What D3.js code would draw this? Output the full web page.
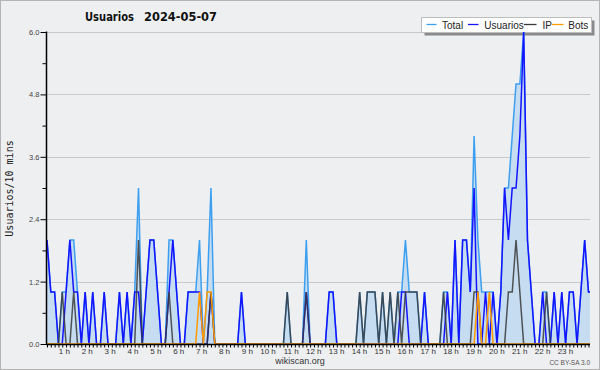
<!DOCTYPE html>
<html><head><meta charset="utf-8">
<script src="https://cdn.jsdelivr.net/npm/d3@7"></script>
<style>body{margin:0;background:#eeeff1}svg{display:block}</style>
</head><body>
<svg id="c" width="600" height="370"></svg>
<script>
// 10-minute slots, 6 per hour, 144 per day
const usuarios = [
  2,1,1,0,0,1, 2,1,1,0,1,0, 1,0,0,1,0,0, 0,1,0,1,0,1,
  1,0,1,2,2,1, 0,0,1,2,1,0, 0,1,1,1,1,0, 0,1,0,0,0,0,
  0,0,0,1,0,0, 0,0,0,0,0,0, 0,0,0,0,0,0, 0,0,1,0,0,0,
  0,0,1,1,0,0, 0,0,0,0,0,0, 0,0,0,0,0,0, 0,0,0,1,1,0,
  0,0,0,1,0,0, 0,0,0,1,0,2, 0,2,2,1,3,0, 0,1,0,1,0,1,
  3,2,3,3,4,6, 2,1,0,0,1,0, 0,1,0,1,0,1, 1,0,1,2,1,1
];
const ip = [
  0,0,0,0,1,0, 0,1,0,0,0,0, 0,0,0,0,0,0, 0,0,0,0,0,0,
  2,0,0,0,0,0, 0,0,1,0,0,0, 0,0,0,0,0,0, 0,1,0,0,0,0,
  0,0,0,0,0,0, 0,0,0,0,0,0, 0,0,0,1,0,0, 0,0,1,0,0,0,
  0,0,0,0,0,0, 0,0,0,0,1,0, 1,1,1,0,1,0, 1,0,1,0,1,1,
  1,1,0,0,0,0, 0,0,1,0,0,0, 0,0,0,0,1,1, 0,0,0,0,0,0,
  0,1,1,2,1,0, 0,0,0,0,0,1, 0,0,0,0,0,0, 0,0,0,0,0,0
];
const bots = [
  0,0,0,0,0,0, 0,0,0,0,0,0, 0,0,0,0,0,0, 0,0,0,0,0,0,
  0,0,0,0,0,0, 0,0,0,0,0,0, 0,0,0,0,1,0, 1,1,0,0,0,0,
  0,0,0,0,0,0, 0,0,0,0,0,0, 0,0,0,0,0,0, 0,0,0,0,0,0,
  0,0,0,0,0,0, 0,0,0,0,0,0, 0,0,0,0,0,0, 0,0,0,0,0,0,
  0,0,0,0,0,0, 0,0,0,0,0,0, 0,0,0,0,0,1, 0,0,1,0,0,0,
  0,0,0,0,0,0, 0,0,0,0,0,0, 0,0,0,0,0,0, 0,0,0,0,0,0
];
const total = [
  2,1,1,0,1,1, 2,2,1,0,1,0, 1,0,0,1,0,0, 0,1,0,1,0,1,
  3,0,1,2,2,1, 0,0,2,2,1,0, 0,1,1,1,2,0, 1,3,0,0,0,0,
  0,0,0,1,0,0, 0,0,0,0,0,0, 0,0,0,1,0,0, 0,0,2,0,0,0,
  0,0,1,1,0,0, 0,0,0,0,1,0, 1,1,1,0,1,0, 1,0,1,1,2,1,
  1,1,0,1,0,0, 0,0,1,1,0,2, 0,2,2,1,4,2, 1,1,1,1,0,1,
  3,3,4,5,5,6, 2,1,0,0,1,1, 0,1,0,1,0,1, 1,0,1,2,1,1
];
const yTicks = [0, 1.2, 2.4, 3.6, 4.8, 6.0];
const yMinor = [0.6, 1.8, 3.0, 4.2, 5.4];
const hours = d3.range(1, 24);
const hourLabels = hours.map(h => h + " h");
const legendNames = ["Total", "Usuarios", "IP", "Bots"];

const colors = {Total:"#3d9ff0", Usuarios:"#1414ff", IP:"#3a3a3a", Bots:"#ff9a00"};
const svg = d3.select("#c");
const SANS = "'Liberation Sans', Arial, sans-serif";

svg.append("rect").attr("x",0.5).attr("y",0.5).attr("width",599).attr("height",369)
  .attr("fill","#eeeff1").attr("stroke","#b4b4b4");

const x = d3.scaleLinear().domain([0,143]).range([47,592.3]);
const y = d3.scaleLinear().domain([0,6]).range([344,32]);

// grid
svg.append("g").selectAll("line").data(yTicks.slice(1)).join("line")
  .attr("x1",46).attr("x2",590)
  .attr("y1",d=>Math.round(y(d))+0.5).attr("y2",d=>Math.round(y(d))+0.5)
  .attr("stroke","#c9c9c9");

// title
svg.append("text").attr("x",85).attr("y",21).text("Usuarios")
  .attr("font-family","'DejaVu Sans', sans-serif").attr("font-weight","bold").attr("font-size",11.5)
  .attr("textLength",49).attr("lengthAdjust","spacingAndGlyphs").attr("fill","#111");
svg.append("text").attr("x",144).attr("y",21).text("2024-05-07")
  .attr("font-family","'DejaVu Sans', sans-serif").attr("font-weight","bold").attr("font-size",11.5)
  .attr("textLength",73).attr("lengthAdjust","spacingAndGlyphs").attr("fill","#111");

// legend
const lg = svg.append("g");
lg.append("rect").attr("x",424.5).attr("y",20.5).attr("width",170).attr("height",15).attr("fill","#8a8a8a");
lg.append("rect").attr("x",421.5).attr("y",17.5).attr("width",170).attr("height",15).attr("fill","#fff").attr("stroke","#bdbdbd");
const legX = [[426.5,436.5,442],[468,478.5,484.3],[524,536.5,542.5],[552,563.5,568.3]];
legendNames.forEach((n,k)=>{
  lg.append("line").attr("x1",legX[k][0]).attr("x2",legX[k][1]).attr("y1",24.5).attr("y2",24.5)
    .attr("stroke",colors[n]).attr("stroke-width",1.3);
  lg.append("text").attr("x",legX[k][2]).attr("y",28.5).text(n)
    .attr("font-family",SANS).attr("font-size",10).attr("fill","#222");
});

// plot
svg.append("clipPath").attr("id","pc").append("rect")
  .attr("x",46).attr("y",26).attr("width",544).attr("height",320);
const g = svg.append("g").attr("clip-path","url(#pc)");
const area = d3.area().x((d,i)=>x(i)).y0(y(0)).y1(d=>y(d));
const line = d3.line().x((d,i)=>x(i)).y(d=>y(d));
g.append("path").datum(total).attr("d",area).attr("fill","#c5dcf1");
const series = [["Total",total],["Usuarios",usuarios],["IP",ip],["Bots",bots]];
series.forEach(([n,arr])=>{
  g.append("path").datum(arr).attr("d",line).attr("fill","none")
    .attr("stroke",colors[n]).attr("stroke-width",1.5)
    .attr("stroke-opacity", n==="IP"?0.85:1).attr("stroke-linejoin","miter");
});

// y axis
const ya = svg.append("g").attr("transform","translate(46.5,0)")
  .call(d3.axisLeft(y).tickValues(yTicks).tickFormat(d3.format(".1f")).tickSize(6).tickPadding(1).tickSizeOuter(0));
ya.select(".domain").remove();
ya.selectAll("text").attr("font-family",SANS).attr("font-size",7.5).attr("fill","#444");
ya.selectAll("line").attr("stroke","#000");
const ym = svg.append("g").attr("transform","translate(46.5,0)")
  .call(d3.axisLeft(y).tickValues(yMinor).tickFormat("").tickSize(4).tickSizeOuter(0));
ym.select(".domain").remove();
svg.append("line").attr("x1",46.5).attr("x2",46.5).attr("y1",31.5).attr("y2",345)
  .attr("stroke","#000").attr("stroke-width",1.5);

// x axis
const xa = svg.append("g").attr("transform","translate(0,344.5)")
  .call(d3.axisBottom(x).tickValues(d3.range(0,143)).tickFormat("").tickSize(3).tickSizeOuter(0));
xa.select(".domain").remove();
xa.selectAll("line").attr("stroke","#000");
svg.append("line").attr("x1",46).attr("x2",590).attr("y1",344.5).attr("y2",344.5)
  .attr("stroke","#000").attr("stroke-width",1.5);
svg.append("g").selectAll("text").data(hours).join("text")
  .attr("x",h=>x(h*6)).attr("y",354).attr("text-anchor","end")
  .text((h,k)=>hourLabels[k])
  .attr("font-family",SANS).attr("font-size",8).attr("fill","#333");

// y title
svg.append("text").attr("transform","translate(13,188.5) rotate(-90)")
  .attr("text-anchor","middle").text("Usuarios/10 mins")
  .attr("font-family","'DejaVu Sans Mono', monospace").attr("font-size",10).attr("fill","#222");

// footer
svg.append("text").attr("x",300).attr("y",363.5).attr("text-anchor","middle").text("wikiscan.org")
  .attr("font-family",SANS).attr("font-size",9).attr("fill","#333");
svg.append("text").attr("x",590).attr("y",365).attr("text-anchor","end").text("CC BY-SA 3.0")
  .attr("font-family",SANS).attr("font-size",6.5).attr("fill","#555");
</script>
</body></html>
